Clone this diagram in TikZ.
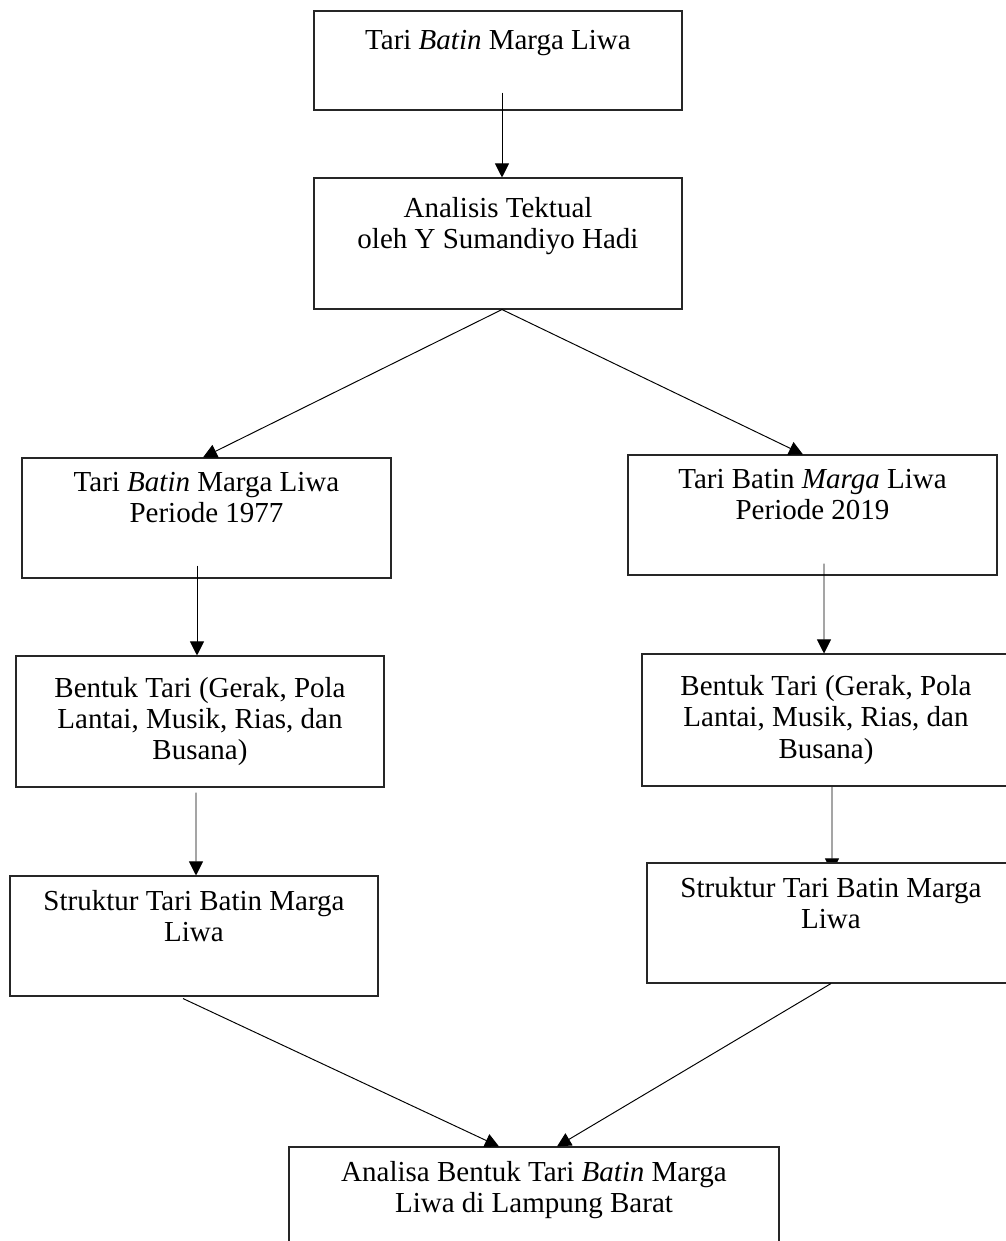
\documentclass[tikz,border=0pt]{standalone}
\usepackage{fontspec}
\setmainfont{Liberation Serif}
\usetikzlibrary{arrows.meta,backgrounds}

\begin{document}
\begin{tikzpicture}[
  box/.style={draw=black!85, line width=0.6pt, fill=white, align=center, minimum width=7.36cm, inner sep=0pt, font=\fontsize{16.5}{17.8}\selectfont},
  flow/.style={->, line width=0.55pt},
  >={Triangle[length=0.28cm, width=0.28cm]}
]
  \useasboundingbox (0,0) rectangle (20.12,-24.82);

  \node[box, minimum height=1.98cm] (batin) at (9.96,-1.21) {Tari \textit{Batin} Marga Liwa\\\strut};
  \node[box, minimum height=2.62cm] (analisis) at (9.96,-4.87) {Analisis Tektual\\oleh Y Sumandiyo Hadi\\\strut};

  \node[box, minimum width=7.38cm, minimum height=2.40cm] (p1977) at (4.13,-10.36) {Tari \textit{Batin} Marga Liwa\\Periode 1977\\\strut};
  \node[box, minimum width=7.38cm, minimum height=2.40cm] (p2019) at (16.25,-10.30) {Tari Batin \textit{Marga} Liwa\\Periode 2019\\\strut};

  \node[box, minimum height=2.62cm] (bentukA) at (4.00,-14.43) {Bentuk Tari (Gerak, Pola\\Lantai, Musik, Rias, dan\\Busana)};
  \node[box, minimum height=2.64cm] (bentukB) at (16.52,-14.40) {Bentuk Tari (Gerak, Pola\\Lantai, Musik, Rias, dan\\Busana)};

  \node[box, minimum height=2.40cm] (strukturA) at (3.88,-18.72) {Struktur Tari Batin Marga\\Liwa\\\strut};
  \node[box, minimum height=2.40cm] (strukturB) at (16.62,-18.46) {Struktur Tari Batin Marga\\Liwa\\\strut};

  \node[box, minimum width=9.80cm, minimum height=2.40cm] (analisa) at (10.68,-24.14) {Analisa Bentuk Tari \textit{Batin} Marga\\Liwa di Lampung Barat\\\strut};

  \draw[flow] ([shift={(0.08,0.36)}]batin.south) -- ([xshift=0.08cm]analisis.north);
  \draw[flow] ([xshift=0.08cm]analisis.south) -- ([xshift=-0.07cm]p1977.north);
  \draw[flow] ([xshift=0.08cm]analisis.south) -- ([xshift=-0.19cm]p2019.north);
  \draw[flow] ([shift={(-0.19,0.26)}]p1977.south) -- ([xshift=-0.06cm]bentukA.north);
  \draw[flow] ([shift={(0.23,0.24)}]p2019.south) -- ([xshift=-0.04cm]bentukB.north);
  \draw[flow] ([shift={(-0.08,-0.1)}]bentukA.south) -- ([xshift=0.04cm]strukturA.north);
  \begin{scope}[on background layer]
    \draw[flow] ([xshift=0.12cm]bentukB.south) -- ([shift={(0.02,-0.2)}]strukturB.north);
  \end{scope}
  \draw[flow] ([shift={(-0.22,-0.04)}]strukturA.south) -- ([xshift=-0.7cm]analisa.north);
  \draw[flow] (strukturB.south) -- ([xshift=0.46cm]analisa.north);
\end{tikzpicture}
\end{document}
